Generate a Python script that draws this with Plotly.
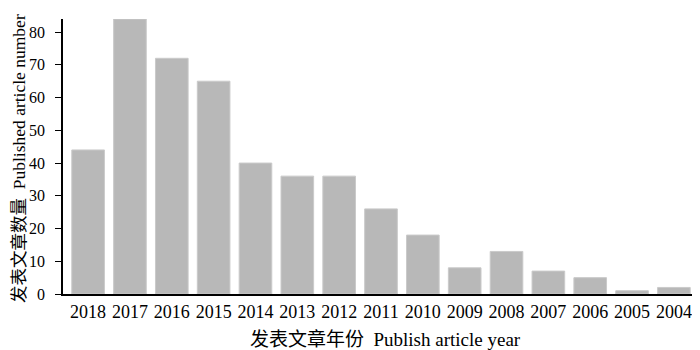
import plotly.graph_objects as go

years = ["2018", "2017", "2016", "2015", "2014", "2013", "2012", "2011",
         "2010", "2009", "2008", "2007", "2006", "2005", "2004"]
counts = [44, 84, 72, 65, 40, 36, 36, 26, 18, 8, 13, 7, 5, 1, 2]
y_ticks = [0, 10, 20, 30, 40, 50, 60, 70, 80]

x_title = "发表文章年份  Publish article year"
y_title = "发表文章数量  Published article number"

serif = "Liberation Serif, Noto Sans CJK SC, serif"

# the page body has an 8px margin, so the figure is sized to fill the rest
W, H = 692, 342
L, R, T, B = 55, 1, 11, 56
pw, ph = W - L - R, H - T - B

fig = go.Figure(go.Bar(
    x=years, y=counts,
    marker=dict(color="#b8b8b8", line=dict(color="#cacaca", width=1)),
))

fig.update_layout(
    width=W, height=H,
    margin=dict(l=L, r=R, t=T, b=B),
    plot_bgcolor="white", paper_bgcolor="white",
    bargap=0.22, showlegend=False,
    font=dict(family=serif, size=16, color="black"),
)
fig.update_xaxes(
    type="category", range=[-0.6, 14.6], automargin=False,
    showline=True, linecolor="black", linewidth=1.5,
    ticks="", showgrid=False, ticklabelstandoff=1,
    tickfont=dict(family=serif, size=18, color="black"),
)
fig.update_yaxes(
    range=[0, 84], tickvals=y_ticks, automargin=False,
    showline=True, linecolor="black", linewidth=1.5,
    ticks="outside", ticklen=6, tickwidth=1.2, tickcolor="black",
    showgrid=False, zeroline=False, ticklabelstandoff=7,
    tickfont=dict(family=serif, size=16, color="black"),
)

fig.add_annotation(
    text=x_title, xref="paper", yref="paper",
    x=(377 - L) / pw, y=-(331 - (H - B)) / ph,
    xanchor="center", yanchor="middle", showarrow=False,
    font=dict(family=serif, size=19, color="black"),
)
fig.add_annotation(
    text=y_title, xref="paper", yref="paper",
    x=(11 - L) / pw, y=(H - B - 151) / ph,
    xanchor="center", yanchor="middle", showarrow=False, textangle=-90,
    font=dict(family=serif, size=17.5, color="black"),
)

fig.write_html("out.html")
